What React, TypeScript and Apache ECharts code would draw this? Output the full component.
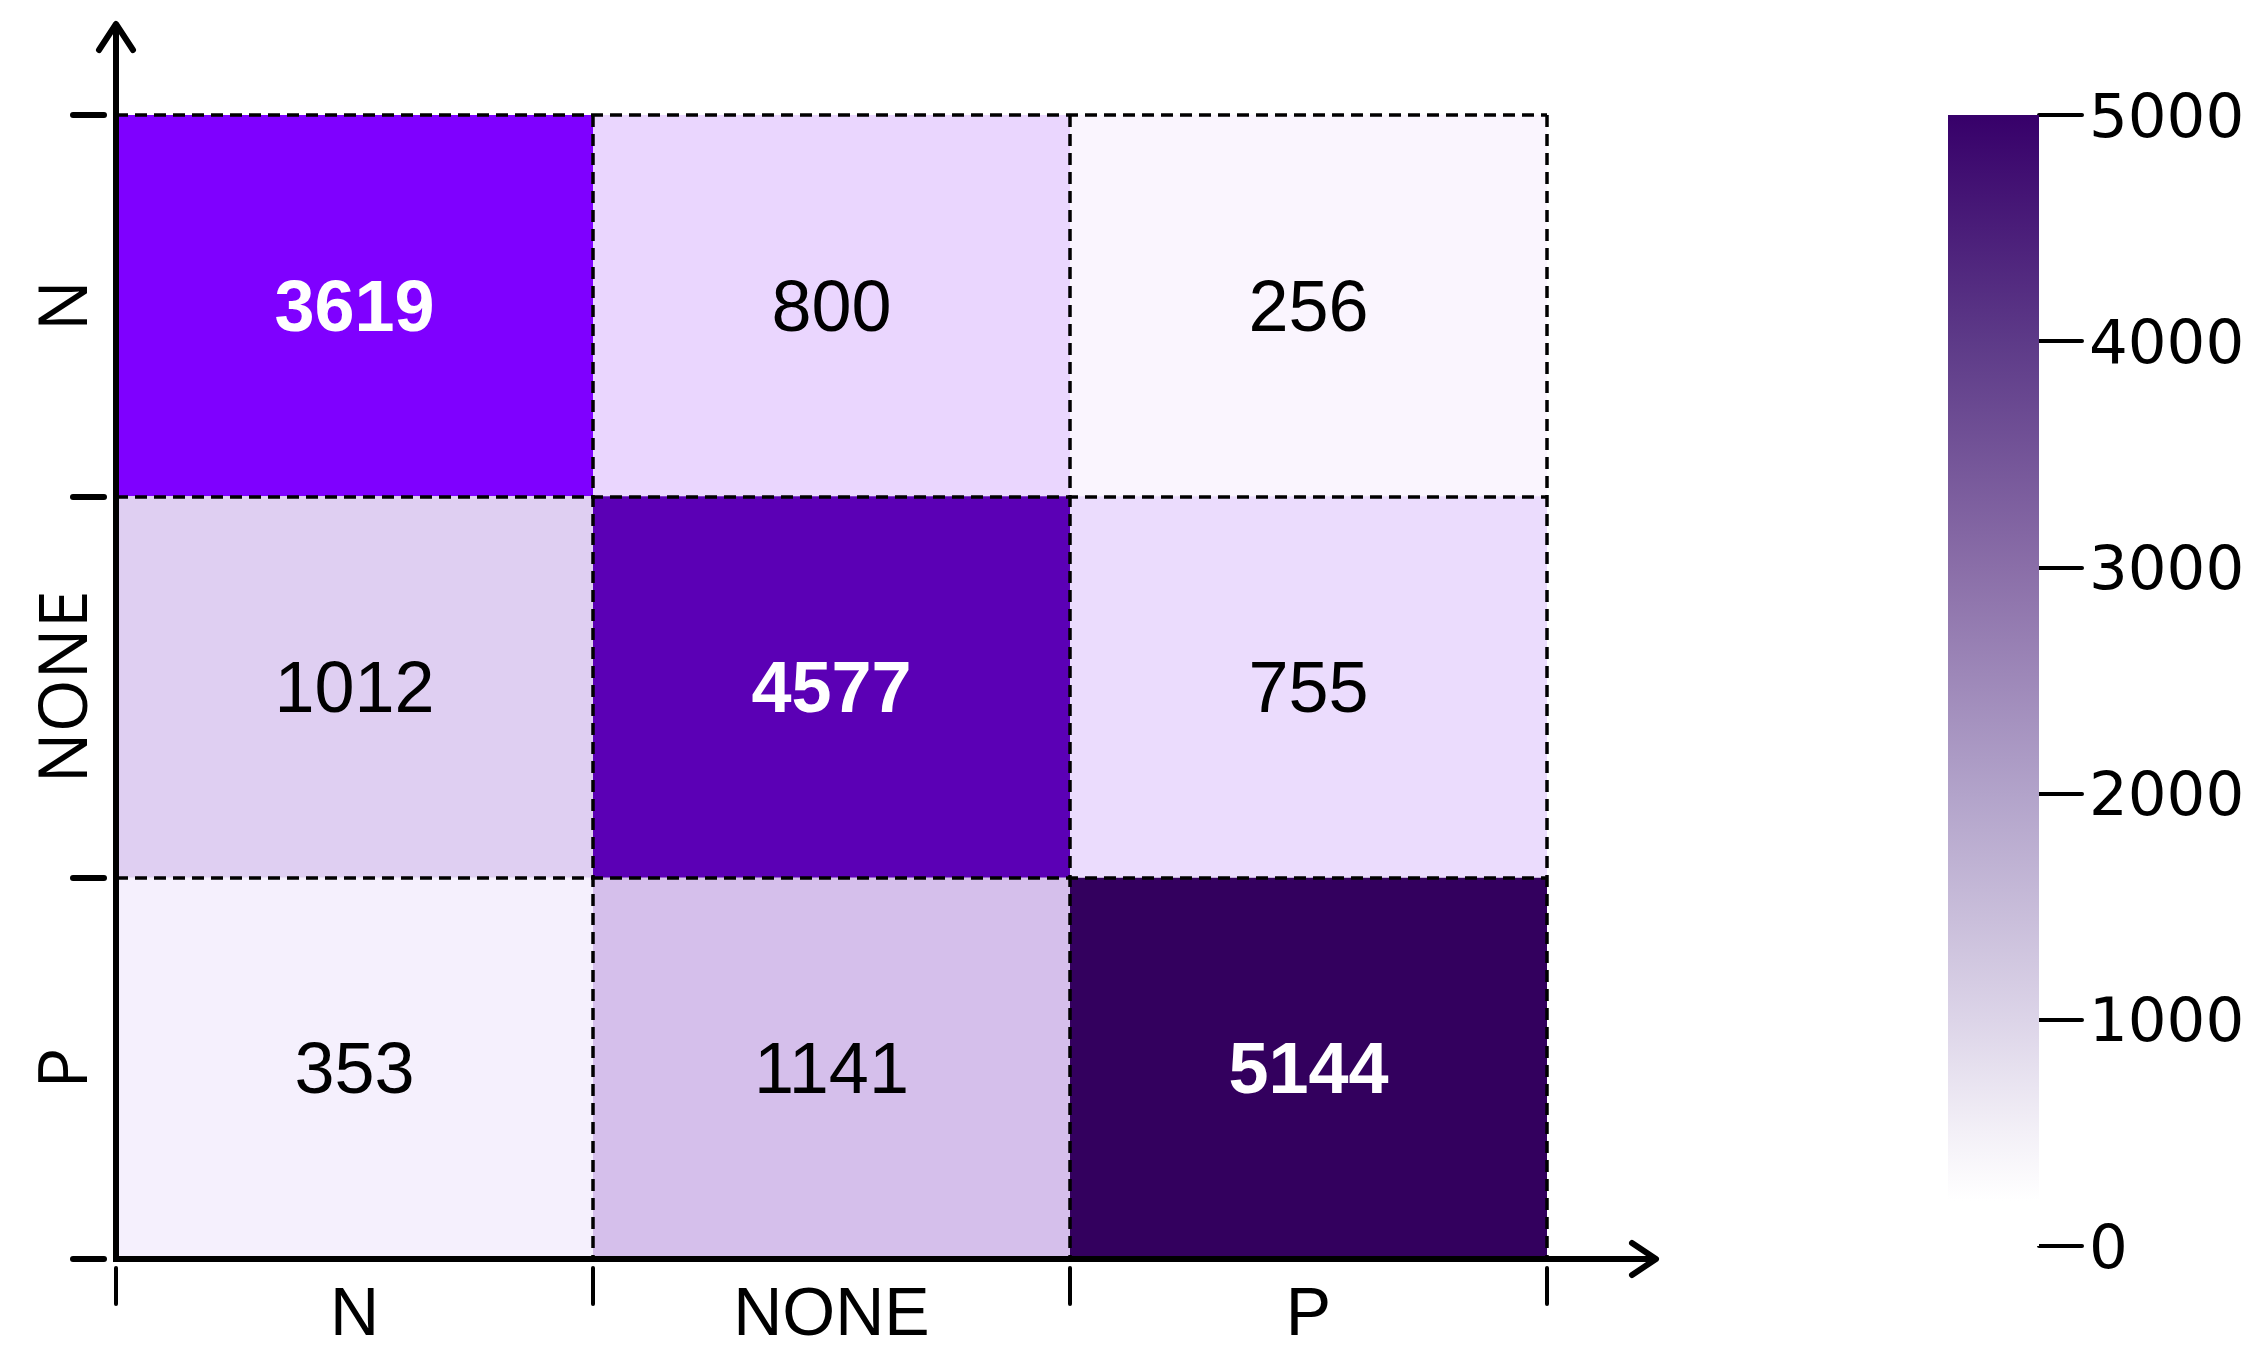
import React, { useEffect, useRef } from 'react';
import * as echarts from 'echarts';

const xCategories = ['N', 'NONE', 'P'];
const yCategories = ['N', 'NONE', 'P'];
const matrix = [
  [3619, 800, 256],
  [1012, 4577, 755],
  [353, 1141, 5144],
];
const colorbarMin = 0;
const colorbarMax = 5000;
const colorbarStep = 1000;

const cellColors = [
  ['#7f00ff', '#ead6fe', '#faf5fe'],
  ['#dfcff2', '#5b00b5', '#ebdcfd'],
  ['#f5f0fd', '#d5bfeb', '#33005e'],
];
const darkThreshold = 3000;

const GL = 116;
const GT = 115;
const GW = 1431;
const GH = 1144;

const NARROW = "'Liberation Sans Narrow', 'Liberation Sans', Arial, sans-serif";

export default function App() {
  const ref = useRef<HTMLDivElement>(null);
  useEffect(() => {
    if (!ref.current) return;
    const chart = echarts.init(ref.current, undefined, { renderer: 'svg' });
    const cellData: any[] = [];
    matrix.forEach((row, r) => {
      row.forEach((v, c) => {
        cellData.push({
          value: [c, r, v],
          itemStyle: { color: cellColors[r][c] },
        });
      });
    });
    const gradient = new echarts.graphic.LinearGradient(0, 0, 0, 1, [
      { offset: 0, color: '#37006a' },
      { offset: 0.2, color: '#5d3a88' },
      { offset: 0.4, color: '#8a6ea8' },
      { offset: 0.6, color: '#b2a3ca' },
      { offset: 0.8, color: '#dcd4e8' },
      { offset: 0.9, color: '#f3f0f7' },
      { offset: 0.96, color: '#ffffff' },
      { offset: 1, color: '#ffffff' },
    ]);
    const dashStyle = { color: '#000', type: [12, 7] as any, width: 3.5 };
    chart.setOption({
      animation: false,
      backgroundColor: '#ffffff',
      grid: [
        { left: GL, top: GT, width: GW, height: GH },
        { left: 1948, top: 115, width: 91, height: 1131 },
      ],
      xAxis: [
        {
          gridIndex: 0, type: 'category', data: xCategories, position: 'bottom', z: 10,
          axisLine: { show: false }, axisTick: { show: false },
          axisLabel: { fontSize: 68, fontFamily: NARROW, color: '#000', margin: 18, interval: 0 },
          splitLine: { show: true, interval: 0, lineStyle: dashStyle },
        },
        {
          gridIndex: 0, type: 'category', data: xCategories, position: 'bottom', offset: 9,
          axisLine: { show: false },
          axisTick: { show: true, length: 36, interval: 0, lineStyle: { color: '#000', width: 4, cap: 'round' } },
          axisLabel: { show: false }, splitLine: { show: false },
        },
        { gridIndex: 1, type: 'category', data: [''], show: false },
      ],
      yAxis: [
        {
          gridIndex: 0, type: 'category', data: yCategories, inverse: true, position: 'left', z: 10,
          axisLine: { show: false }, axisTick: { show: false },
          axisLabel: { fontSize: 68, fontFamily: "'Open Sans', sans-serif", color: '#000', margin: 22, rotate: 90, interval: 0 },
          splitLine: { show: true, interval: 0, lineStyle: dashStyle },
        },
        {
          gridIndex: 0, type: 'category', data: yCategories, inverse: true, position: 'left', offset: 12,
          axisLine: { show: false },
          axisTick: { show: true, length: 31, interval: 0, lineStyle: { color: '#000', width: 6, cap: 'round' } },
          axisLabel: { show: false }, splitLine: { show: false },
        },
        {
          gridIndex: 1, type: 'value', min: colorbarMin, max: colorbarMax, interval: colorbarStep, position: 'right',
          axisLine: { show: false },
          axisTick: { show: true, length: 43, lineStyle: { color: '#000', width: 4, cap: 'round' } },
          axisLabel: {
            fontSize: 61, fontFamily: "'DejaVu Sans', sans-serif", color: '#000', margin: 50,
            formatter: (v: number) => String(v),
          },
          splitLine: { show: false },
        },
      ],
      series: [
        {
          type: 'custom', xAxisIndex: 0, yAxisIndex: 0, data: cellData, silent: true,
          renderItem: (params: any, api: any) => {
            const c = api.value(0);
            const r = api.value(1);
            const v = api.value(2);
            const center = api.coord([c, r]);
            const size = api.size([1, 1]);
            const dark = v > darkThreshold;
            return {
              type: 'rect',
              shape: { x: center[0] - size[0] / 2, y: center[1] - size[1] / 2, width: size[0], height: size[1] },
              style: { fill: api.visual('color') },
              textContent: {
                style: {
                  text: String(v),
                  fill: dark ? '#ffffff' : '#000000',
                  fontSize: 72,
                  fontFamily: NARROW,
                  fontWeight: dark ? 'bold' : 'normal',
                },
              },
              textConfig: { position: 'inside' },
            };
          },
        },
        {
          type: 'bar', xAxisIndex: 2, yAxisIndex: 2, data: [colorbarMax], barWidth: '100%',
          itemStyle: { color: gradient }, silent: true,
        },
      ],
      graphic: [
        { type: 'line', shape: { x1: GL, y1: GT + GH + 3, x2: GL, y2: 26 }, style: { stroke: '#000', lineWidth: 6 }, z: 20 },
        { type: 'polyline', shape: { points: [[GL - 17, 50], [GL, 24], [GL + 17, 50]] }, style: { stroke: '#000', lineWidth: 6, lineCap: 'round', lineJoin: 'round', fill: null }, z: 20 },
        { type: 'line', shape: { x1: GL - 3, y1: GT + GH, x2: 1654, y2: GT + GH }, style: { stroke: '#000', lineWidth: 6 }, z: 20 },
        { type: 'polyline', shape: { points: [[1632, GT + GH - 16], [1656, GT + GH], [1632, GT + GH + 16]] }, style: { stroke: '#000', lineWidth: 6, lineCap: 'round', lineJoin: 'round', fill: null }, z: 20 },
      ],
    });
    return () => chart.dispose();
  }, []);
  return <div ref={ref} style={{ position: 'fixed', left: 0, top: 0, width: 2260, height: 1366 }} />;
}
